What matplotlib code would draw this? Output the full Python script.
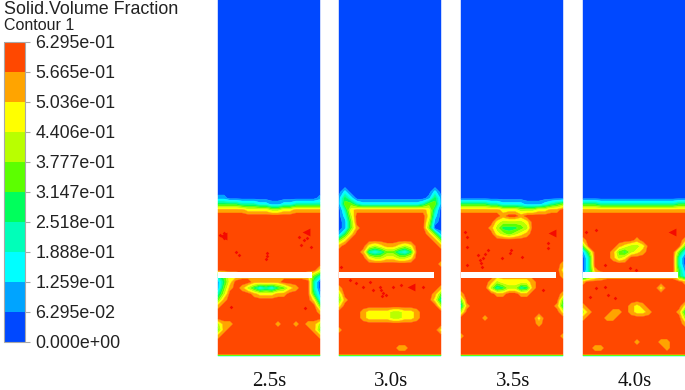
import matplotlib
matplotlib.use('Agg')
import matplotlib.pyplot as plt
import numpy as np

# Legend of the contour plot
legend_title = 'Solid.Volume Fraction'
legend_subtitle = 'Contour 1'
levels = [0.0, 0.06295, 0.1259, 0.1888, 0.2518, 0.3147, 0.3777, 0.4406, 0.5036, 0.5665, 0.6295]
level_labels = ['0.000e+00', '6.295e-02', '1.259e-01', '1.888e-01', '2.518e-01',
                '3.147e-01', '3.777e-01', '4.406e-01', '5.036e-01', '5.665e-01', '6.295e-01']
band_colors = ['#0048ff', '#00a4ff', '#00ffff', '#00ffb9', '#00ff5c',
               '#5cff00', '#b9ff00', '#ffff00', '#ffa400', '#ff4800']

times = ['2.5s', '3.0s', '3.5s', '4.0s']

# Sampling of the field inside a panel, pixels from the panel corner
grid_x = list(range(0, 103, 6))
grid_y = [0, 186] + list(range(192, 349, 6)) + [354, 356]

# Field: one digit per node, the legend band it falls in
B = '0' * 18
F = '9' * 18
E = '2' * 18

field_25 = [
    B, B, B, '110000000000000001', '444433322112233333', '888887777667788888', F, F, F, F, F,
    F, F, F, F, '999999999999999997', '357788888888888753', '147999888889999930',
    '158986423245789930', '369999877788999941', '589999999999999972', '899999999999999995',
    '999999999999999998', F, '688999999989989886', '589999999999999985', '899999999999999998',
    F, F, F, E,
]
field_30 = [
    B, B, '020000000000000020', '142000000000000141', '155322222222223551', '037888888888888730',
    '026999999999999720', '015999999999999610', '015899999999999500', '147999999999999851',
    '579999999999999985', '899997678876799998', '999983235532499999', '999997667766799999',
    '999999999999999998', F, F, F, '899999999999999998', '699999999999999985',
    '589999999999999973', '799999999999999996', '999987777667789999', '999987777667789999',
    F, '899999999999999997', F, F, '999999999988999999', F, E,
]
field_35 = [
    B, B, B, B, '444443322221112345', '888888877766677889', '999999989989999999',
    '999999766667999999', '999998644456999999', '999999765678999999', F, F, F, F,
    '999999999999999998', '999999999999999997', '999999888888999998', '999998677777899999',
    '999996346634899999', '899999889988999998', '599999999999999995', '389999999999999984',
    '699999999999999997', '999989999999979999', '999999999999989999', F,
    '899999999999999998', F, F, F, E,
]
field_40 = [
    B, B, B, B, '444333333333333344', '888888888888888888', F, F, F, F,
    '899999999899999998', '599999876679999995', '159998546789999952', '039998679999999930',
    '039999999999999930', '038999999999999941', '146788888888888842', '899999999999999998',
    '999999999999979999', F, F, '899999998789999997', '689998898778999984',
    '899988999999999996', '999999999999999998', F, F, '999999999899988999',
    '998899999999998999', F, E,
]
fields = [field_25, field_30, field_35, field_40]

# Small spots above the top legend value, pixels from the panel corner
spots_x_25 = [6, 49, 21, 83, 93, 86, 2, 13, 87, 6, 18, 81, 89, 49, 48]
spots_y_25 = [238, 256, 255, 245, 247, 240, 235, 307, 308, 233, 252, 237, 238, 253, 259]
spots_x_30 = [42, 41, 17, 24, 31, 54, 62, 44, 11, 34, 2, 47, 84, 43]
spots_y_30 = [290, 287, 283, 287, 282, 287, 285, 293, 280, 290, 267, 295, 287, 296]
spots_x_35 = [6, 22, 19, 17, 49, 87, 87, 41, 27, 6, 61, 4, 82, 21, 6, 24, 20, 50]
spots_y_35 = [237, 258, 260, 255, 253, 248, 243, 258, 250, 247, 257, 232, 290, 267, 265, 254, 263, 250]
spots_x_40 = [7, 32, 22, 13, 3, 13, 47, 53, 22, 25]
spots_y_40 = [297, 298, 287, 288, 232, 230, 268, 270, 265, 295]
spots_x = [spots_x_25, spots_x_30, spots_x_35, spots_x_40]
spots_y = [spots_y_25, spots_y_30, spots_y_35, spots_y_40]

# The few larger red patches
patch_x = [[88, 5], [72], [91], [89]]
patch_y = [[232, 236], [287], [233], [232]]

# Page layout in pixels
panel_left = [218, 339, 461, 583]
label_x = [269, 391, 513, 634.5]
slot_length = [94, 95, 95, 95]


def draw_panel(ax, k):
    # Turn the digits into values in the middle of their legend band
    digits = np.array([[int(c) for c in row] for row in fields[k]], dtype=float)
    values = (digits + 0.5) * levels[1]
    x = np.array(grid_x) + panel_left[k]
    cs = ax.contourf(x, grid_y, values, levels=levels, colors=band_colors, antialiased=True)
    cs.set_edgecolor('face')
    cs.set_linewidth(0.3)

    ax.scatter(np.array(spots_x[k]) + panel_left[k], spots_y[k], s=3.5, color='#f40a00',
               marker='D', linewidths=0, zorder=3)
    ax.scatter(np.array(patch_x[k]) + panel_left[k], patch_y[k], s=32, color='#f40a00',
               marker='<', linewidths=0, zorder=3)

    # White slot across the bed
    ax.barh(274.8, slot_length[k], left=panel_left[k], height=5.6, color='white', zorder=4)
    ax.text(label_x[k], 381, times[k], family='Liberation Serif', fontsize=15,
            ha='center', va='center', color='#111111')
    return cs


def draw_legend(fig, ax, cs):
    ax.text(4, 9.5, legend_title, family='Liberation Sans', fontsize=12.9, va='center', color='#222222')
    ax.text(4, 25, legend_subtitle, family='Liberation Sans', fontsize=11.5, va='center', color='#222222')

    cax = fig.add_axes([4 / 685, 1 - 342 / 390, 21 / 685, 300 / 390])
    bar = fig.colorbar(cs, cax=cax, ticks=levels, spacing='uniform', drawedges=False)
    bar.ax.set_yticklabels(level_labels, family='Liberation Sans', fontsize=12.8, color='#222222')
    bar.ax.tick_params(length=3.5, width=0.8, color='#a8a8a8', pad=4)
    bar.outline.set_edgecolor('#a8a8a8')
    bar.outline.set_linewidth(0.8)


def main():
    fig = plt.figure(figsize=(6.85, 3.90), dpi=100)
    ax = fig.add_axes([0, 0, 1, 1])

    for k in range(len(times)):
        cs = draw_panel(ax, k)

    ax.set_xlim(0, 685)
    ax.set_ylim(390, 0)
    ax.axis('off')

    draw_legend(fig, ax, cs)
    fig.savefig('out.png', dpi=100)


if __name__ == '__main__':
    main()
